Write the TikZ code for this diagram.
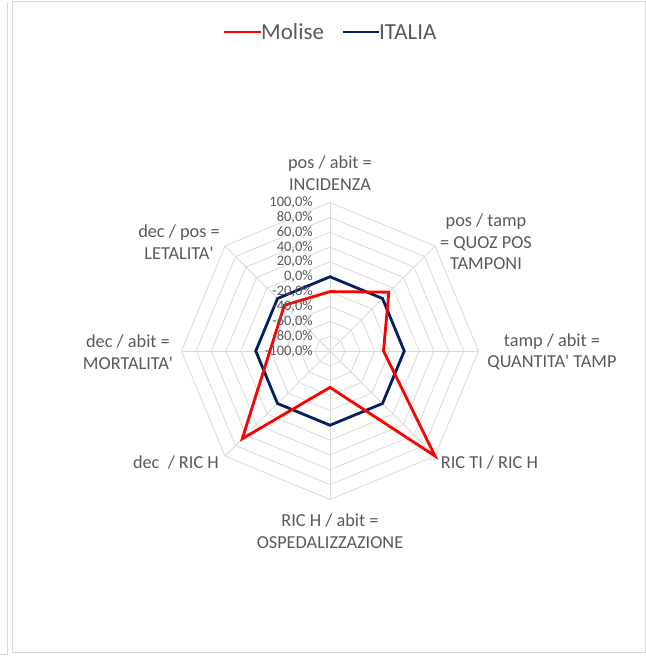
\documentclass[tikz,border=0pt]{standalone}
\usepackage{fontspec}
\newfontfamily\chartfont{Carlito}
\usetikzlibrary{positioning,calc}
\usepackage{xcolor}
\definecolor{moliser}{RGB}{255,0,0}
\definecolor{italiablue}{RGB}{0,32,96}
\definecolor{gridgray}{RGB}{217,217,217}
\definecolor{labelgray}{RGB}{89,89,89}

\begin{document}
\begin{tikzpicture}[x=1pt,y=1pt,
    grid/.style={gridgray, line width=0.8pt},
    series/.style={line width=2.8pt, line join=miter},
    axislabel/.style={text=labelgray, font=\chartfont\fontsize{18.3}{21.5}\selectfont, align=center, inner sep=0pt},
    ticklabel/.style={text=labelgray, font=\chartfont\fontsize{14.5}{14.5}\selectfont, anchor=east, inner sep=0pt},
    legendlabel/.style={text=labelgray, font=\chartfont\fontsize{23}{24}\selectfont, anchor=west, inner sep=0pt}]
    \useasboundingbox (0,0) rectangle (646,657);
    % chart frames
    \draw[gridgray, line width=1pt] (12.7,4.3) rectangle (645,655.3);
    \draw[gridgray, line width=1pt] (7.3,654) -- (7.3,2) -- (0,2);
    % legend
    \node[legendlabel] (legmolise) at (261,625) {Molise};
    \node[legendlabel] (legitalia) at (379,625) {ITALIA};
    \coordinate (legmolisestart) at (224,625);
    \coordinate (legitaliastart) at (343,625);
    \draw[series, moliser] (legmolisestart) -- (legmolise.west);
    \draw[series, italiablue] (legitaliastart) -- (legitalia.west);
    \begin{scope}[shift={(330,306)}]
        % rings and spokes
        \foreach \k in {1,...,10}
            \draw[grid] (90:{\k*14.85}) \foreach \a in {45,0,-45,-90,-135,-180,-225} {-- (\a:{\k*14.85})} -- cycle;
        \foreach \a in {90,45,...,-225}
            \draw[grid] (0,0) -- (\a:148.5);
        % series
        \draw[series, italiablue] (90:74.25) \foreach \a in {45,0,-45,-90,-135,-180,-225} {-- (\a:74.25)} -- cycle;
        \draw[series, moliser] (90:59.4) -- (45:83.2) -- (0:53.5) -- (-45:148.5) -- (-90:36.4)
            -- (-135:124) -- (180:60.1) -- (135:64.6) -- cycle;
        % scale
        \foreach \k in {0,...,10} {
            \pgfmathtruncatemacro{\v}{-100+20*\k}
            \node[ticklabel] (tick\k) at (-17,{\k*14.85}) {\v,0\%};
        }
    \end{scope}
    % axis labels
    \node[axislabel] (incidenza) at (330,484) {pos / abit =\\INCIDENZA};
    \node[axislabel] (quozpos) at (486,415) {pos / tamp\\= QUOZ POS\\TAMPONI};
    \node[axislabel] (quantita) at (552,305) {tamp / abit =\\QUANTITA' TAMP};
    \node[axislabel, anchor=west] (ricti) at (440.7,194.3) {RIC TI / RIC H};
    \node[axislabel] (ospedal) at (330,126) {RIC H / abit =\\OSPEDALIZZAZIONE};
    \node[axislabel, anchor=east] (decric) at (219,194.3) {dec \ / RIC H};
    \node[axislabel] (mortalita) at (128,305) {dec / abit =\\MORTALITA'};
    \node[axislabel] (letalita) at (179,415) {dec / pos =\\LETALITA'};
\end{tikzpicture}
\end{document}
